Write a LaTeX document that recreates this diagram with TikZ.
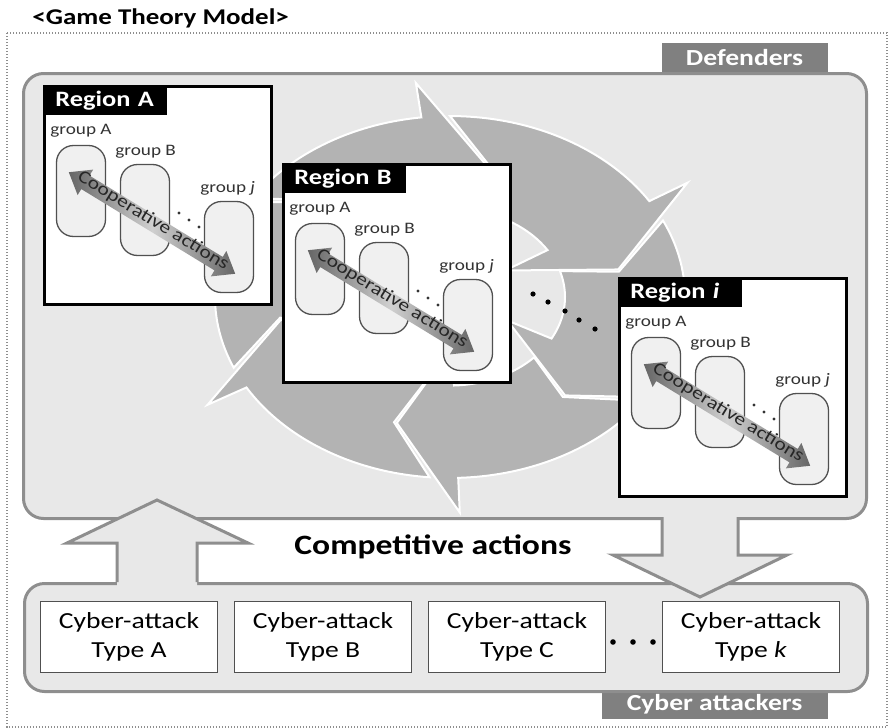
\documentclass[tikz,border=0pt]{standalone}
\usepackage{fontspec}
\setmainfont{Carlito}[FakeStretch=1.2]
\usepackage{tikz}
\usetikzlibrary{shapes,arrows,positioning}
\definecolor{panelgray}{HTML}{E8E8E8}
\definecolor{edgegray}{HTML}{8E8E8E}
\definecolor{tabgray}{HTML}{808080}
\definecolor{ringgray}{HTML}{B3B3B3}
\definecolor{boxedge}{HTML}{505050}
\definecolor{coopdark}{HTML}{666666}
\definecolor{cooplight}{HTML}{D0D0D0}
\tikzstyle{panel} = [rectangle, draw=edgegray, fill=panelgray, line width=3pt,
    rounded corners=20pt, anchor=north west]
\tikzstyle{tab} = [rectangle, fill=tabgray, text=white, inner sep=0pt,
    font=\bfseries\fontsize{23}{26}\selectfont]
\tikzstyle{attack} = [rectangle, draw=boxedge, fill=white, line width=1.5pt,
    minimum width=177pt, minimum height=71pt, align=center, font=\fontsize{23}{29}\selectfont]
\tikzstyle{region} = [rectangle, draw=black, fill=white, line width=2.5pt,
    minimum width=227pt, minimum height=218pt, anchor=north west]
\tikzstyle{regtitle} = [rectangle, fill=black, text=white, text width=100pt, inner xsep=12pt,
    minimum height=30pt, anchor=north west, align=left, font=\bfseries\fontsize{22}{24}\selectfont]
\tikzstyle{group} = [rectangle, draw=boxedge, fill=black!6, line width=1.3pt,
    rounded corners=17pt, minimum width=49pt, minimum height=91pt]
\tikzstyle{glabel} = [inner sep=0pt, anchor=base west, text=black!80, font=\fontsize{16}{18}\selectfont]
\tikzstyle{coop} = [double arrow, double arrow head extend=7pt, double arrow tip angle=75,
    minimum height=192pt, inner xsep=0pt, inner ysep=2pt, text height=8pt, text depth=3pt,
    left color=coopdark, right color=coopdark, middle color=cooplight,
    text=black!85, font=\fontsize{18}{19}\selectfont]
\tikzstyle{ringarrow} = [fill=ringgray, draw=white, line width=2pt]
\tikzstyle{bigarrow} = [draw=edgegray, line width=3pt, line join=miter]

\begin{document}
\begin{tikzpicture}[x=1pt, y=-1pt, node distance=194pt, auto, thick]
    \useasboundingbox (0,0) rectangle (889,728);
    % Title and frame
    \node [anchor=base west, inner sep=0pt, font=\bfseries\fontsize{22.5}{24}\selectfont] (title) at (32,24) {<Game Theory Model>};
    \draw [edgegray, line width=1.2pt, dash pattern=on 1.2pt off 1.8pt] (7,33) rectangle (887,727);
    % Panels
    \node [tab, minimum width=166pt, minimum height=30pt, anchor=south east] (deftab) at (828,73) {Defenders};
    \node [panel, minimum width=843pt, minimum height=445pt] (defenders) at (22,72) {};
    \node [tab, minimum width=226pt, minimum height=30pt, anchor=north east] (atttab) at (828,689) {Cyber attackers};
    \node [panel, minimum width=843pt, minimum height=108pt] (attackers) at (23,582) {};
    % Cycle of arrows
    \begin{scope}[shift={(450,297)}, yscale=-0.77]
      \foreach \ang/\prev in {154/210, 97/154, 32/97, -28/32, -88/-28, -150/-88}
        \draw [ringarrow] (\prev-7:235) arc[start angle=\prev-7, end angle=\ang, radius=235]
          -- (\ang:280) -- (\ang-20:172) -- (\ang:65) -- (\ang:115)
          arc[start angle=\ang, end angle=\prev-15, radius=115] -- (\prev-21:172) -- cycle;
    \end{scope}
    \foreach \px/\py in {533/294, 548/302, 565/311, 579/320, 595/329}
      \fill (\px,\py) circle (2.6);
    % Regions
    \foreach \rx/\ry/\rn/\rtext in {43/85/A/{Region A}, 282/163/B/{Region B}, 618/277/i/{Region \textit{i}}} {
      \begin{scope}[shift={(\rx,\ry)}]
        \node [region] (reg\rn) at (0,0) {};
        \node [regtitle] (title\rn) at (0,0) {\rtext};
        \node [group] (grpA\rn) at (38,106) {};
        \node [group] (grpB\rn) at (102,125) {};
        \node [group] (grpj\rn) at (186,162) {};
        \node [glabel] (labA\rn) at (7,49) {group A};
        \node [glabel] (labB\rn) at (72,70) {group B};
        \node [glabel] (labj\rn) at (157,107) {group \textit{j}};
        \foreach \dotno in {0,1,2}
          \fill [black!80] (136+10*\dotno,128+7*\dotno) circle (1.7);
        \node [coop, rotate=-31.4] (coop\rn) at (109,138) {Cooperative actions};
      \end{scope}
    }
    % Competitive actions
    \coordinate (upbase) at (157,582);
    \coordinate (uptip) at (157,500);
    \fill [panelgray] (upbase) ++(-40,4) -- ++(0,-43) -- ++(-50,0) -- (uptip) -- ++(91,43) -- ++(-51,0) -- ++(0,43) -- cycle;
    \draw [bigarrow] (upbase) ++(-40,0) -- ++(0,-39) -- ++(-50,0) -- (uptip) -- ++(91,43) -- ++(-51,0) -- ++(0,39);
    \coordinate (downbase) at (700,517);
    \coordinate (downtip) at (700,597);
    \fill [panelgray] (downbase) ++(-38,-4) -- ++(0,42) -- ++(-49,0) -- (downtip) -- ++(87,-42) -- ++(-49,0) -- ++(0,-42) -- cycle;
    \draw [bigarrow] (downbase) ++(-38,0) -- ++(0,38) -- ++(-49,0) -- (downtip) -- ++(87,-42) -- ++(-49,0) -- ++(0,-38);
    \node [font=\bfseries\fontsize{28}{30}\selectfont] (compet) at (433,547) {Competitive actions};
    % Attack types
    \node [attack] (typeA) at (129,637) {Cyber-attack\\Type A};
    \node [attack, right of=typeA] (typeB) {Cyber-attack\\Type B};
    \node [attack, right of=typeB] (typeC) {Cyber-attack\\Type C};
    \node [attack, right of=typeC, node distance=234pt] (typek) {Cyber-attack\\Type \textit{k}};
    \foreach \px in {613,633,653}
      \fill (\px,642) circle (2.8);
\end{tikzpicture}
\end{document}
